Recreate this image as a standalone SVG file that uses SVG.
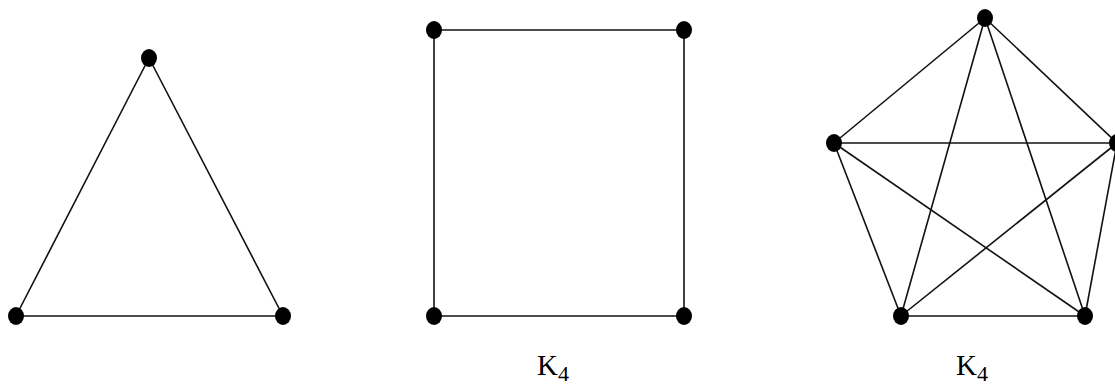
<svg xmlns="http://www.w3.org/2000/svg" width="1115" height="385" viewBox="0 0 1115 385">
<style>
.e{stroke:#111;stroke-width:1.6;fill:none}
.n{fill:#000}
.lbl{font-family:"Liberation Serif",serif;font-size:29px;fill:#000}
.sub{font-size:22px}
</style>
<rect width="1115" height="385" fill="#fff"/>
<g id="connectors">
<line class="e" x1="149" y1="58" x2="16" y2="316"/>
<line class="e" x1="149" y1="58" x2="283" y2="316"/>
<line class="e" x1="16" y1="316" x2="283" y2="316"/>
<line class="e" x1="434" y1="30" x2="684" y2="30"/>
<line class="e" x1="434" y1="30" x2="434" y2="316"/>
<line class="e" x1="684" y1="30" x2="684" y2="316"/>
<line class="e" x1="434" y1="316" x2="684" y2="316"/>
<line class="e" x1="985" y1="18" x2="834" y2="143"/>
<line class="e" x1="985" y1="18" x2="1117" y2="143"/>
<line class="e" x1="985" y1="18" x2="901" y2="316"/>
<line class="e" x1="985" y1="18" x2="1085" y2="316"/>
<line class="e" x1="834" y1="143" x2="1117" y2="143"/>
<line class="e" x1="834" y1="143" x2="901" y2="316"/>
<line class="e" x1="834" y1="143" x2="1085" y2="316"/>
<line class="e" x1="1117" y1="143" x2="901" y2="316"/>
<line class="e" x1="1117" y1="143" x2="1085" y2="316"/>
<line class="e" x1="901" y1="316" x2="1085" y2="316"/>
</g>
<g id="n1"><ellipse class="n" cx="149" cy="58" rx="8" ry="9"/></g>
<g id="n2"><ellipse class="n" cx="16" cy="316" rx="8" ry="9"/></g>
<g id="n3"><ellipse class="n" cx="283" cy="316" rx="8" ry="9"/></g>
<g id="n4"><ellipse class="n" cx="434" cy="30" rx="8" ry="9"/></g>
<g id="n5"><ellipse class="n" cx="684" cy="30" rx="8" ry="9"/></g>
<g id="n6"><ellipse class="n" cx="434" cy="316" rx="8" ry="9"/></g>
<g id="n7"><ellipse class="n" cx="684" cy="316" rx="8" ry="9"/></g>
<g id="n8"><ellipse class="n" cx="985" cy="18" rx="8" ry="9"/></g>
<g id="n9"><ellipse class="n" cx="834" cy="143" rx="8" ry="9"/></g>
<g id="n10"><ellipse class="n" cx="1117" cy="143" rx="8" ry="9"/></g>
<g id="n11"><ellipse class="n" cx="901" cy="316" rx="8" ry="9"/></g>
<g id="n12"><ellipse class="n" cx="1085" cy="316" rx="8" ry="9"/></g>
<g id="label1"><text class="lbl" x="537" y="375">K<tspan class="sub" dy="6">4</tspan></text></g>
<g id="label2"><text class="lbl" x="956" y="375">K<tspan class="sub" dy="6">4</tspan></text></g>
</svg>
